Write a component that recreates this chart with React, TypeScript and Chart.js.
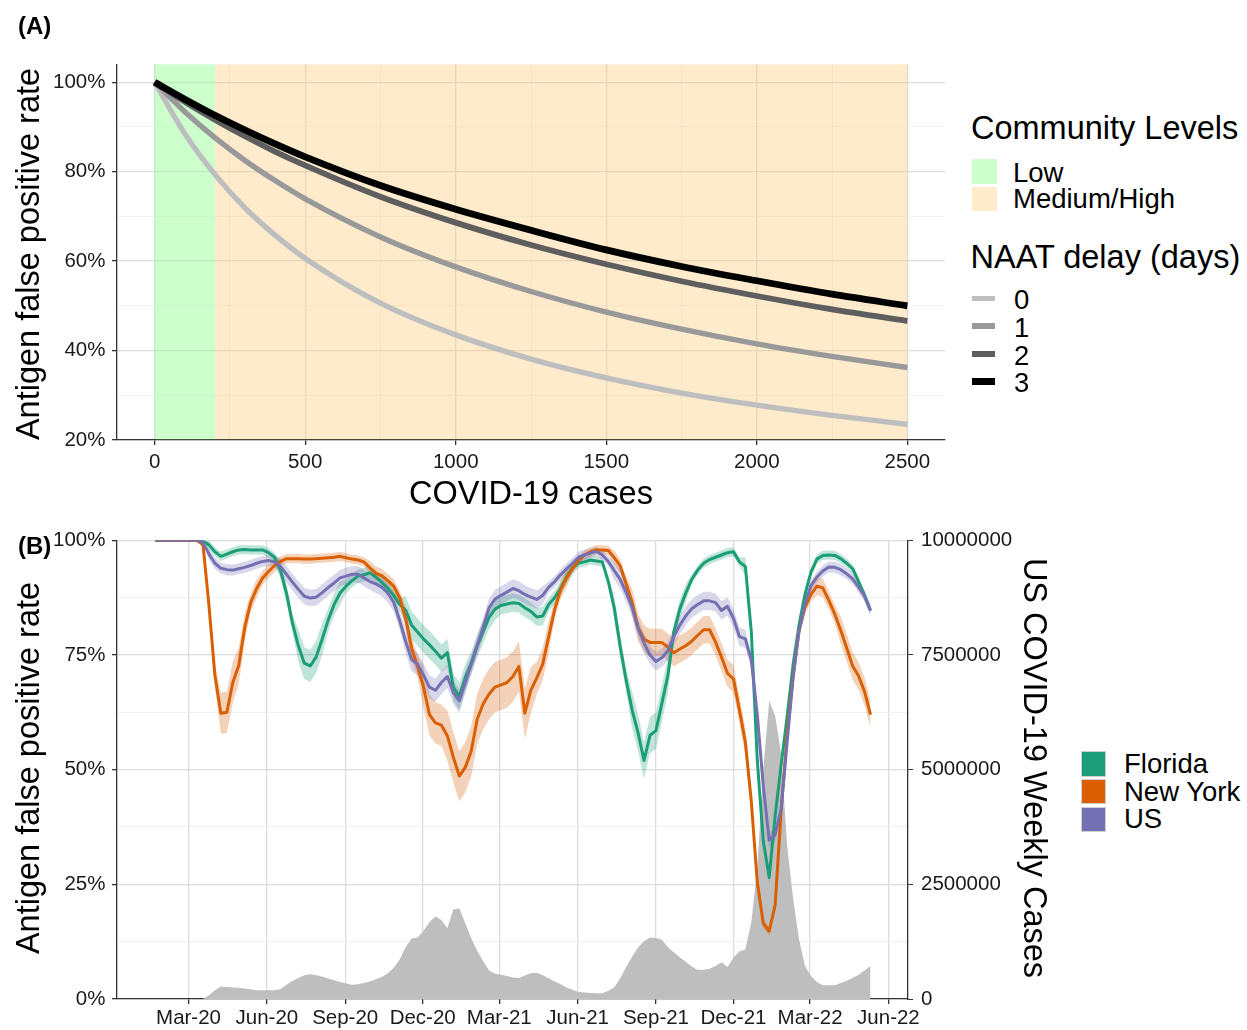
import React, { useEffect, useRef } from "react";
import { Chart, registerables } from "chart.js";

Chart.register(...registerables);

const FONT = "'Liberation Sans', Arial, Helvetica, sans-serif";
const TICK_TEXT = "#1a1a1a";
const AXIS_COLOR = "#333333";
const GRID_MAJOR = "#dcdcdc";
const GRID_MINOR = "#efefef";
const TRANSPARENT = "rgba(0,0,0,0)";

// ---------------- Panel A data ----------------
const aCases = [0, 100, 200, 300, 400, 500, 750, 1000, 1250, 1500, 1750, 2000, 2250, 2500];
const aDelay0 = [100, 88.5, 79.4, 71.9, 65.8, 60.6, 50.6, 43.5, 38.1, 33.9, 30.5, 27.8, 25.5, 23.5];
const aDelay1 = [100, 93.4, 87.6, 82.5, 78.0, 73.9, 65.4, 58.7, 53.2, 48.6, 44.8, 41.5, 38.7, 36.2];
const aDelay2 = [100, 95.6, 91.6, 87.9, 84.5, 81.4, 74.4, 68.6, 63.6, 59.3, 55.5, 52.2, 49.2, 46.6];
const aDelay3 = [100, 96.2, 92.6, 89.3, 86.2, 83.3, 76.9, 71.6, 66.9, 62.5, 58.8, 55.6, 52.6, 50.0];
const aDelayLabels = ["0", "1", "2", "3"];
const aLevelLabels = ["Low", "Medium/High"];
const aLevelStart = [0, 200];
const aLevelEnd = [200, 2500];
const aYTicks = [20, 30, 40, 50, 60, 70, 80, 90, 100];
const aXTicks = [0, 250, 500, 750, 1000, 1250, 1500, 1750, 2000, 2250, 2500];

// ---------------- Panel B data (weekly, from 2020-01-22) ----------------
const bFirstWeek = "2020-01-22";
const bTickDates = ["2020-03-01", "2020-06-01", "2020-09-01", "2020-12-01", "2021-03-01", "2021-06-01", "2021-09-01", "2021-12-01", "2022-03-01", "2022-06-01"];
const bTickLabels = ["Mar-20", "Jun-20", "Sep-20", "Dec-20", "Mar-21", "Jun-21", "Sep-21", "Dec-21", "Mar-22", "Jun-22"];
const bRangeStart = "2019-12-08";
const bRangeEnd = "2022-06-24";
const bYTicks = [0, 12.5, 25, 37.5, 50, 62.5, 75, 87.5, 100];
const bY2Ticks = [0, 2500000, 5000000, 7500000, 10000000];
const bRegions = ["Florida", "New York", "US"];

const floridaRate = [
  100, 100, 100, 100, 100, 100, 100, 100, 99.8, 99,
  97.5, 96.5, 97.0, 97.5, 97.9, 98.0, 97.9, 97.9, 97.9, 97.3,
  96.3, 93.5, 88.5, 82, 77, 73.2, 72.6, 74.6, 78.5, 82.6,
  86, 88.5, 90, 91.2, 92.2, 92.5, 92.9, 92, 90.8, 89.5,
  88, 86, 84.8, 81.5, 80, 78.5, 77.2, 75.8, 74.3, 75.5,
  68, 66, 70, 73.2, 77, 80, 83.2, 85, 85.8, 86.1,
  86.4, 86.2, 85.3, 84.5, 83.3, 83.5, 86, 87.5, 89.5, 92,
  94, 95, 95.3, 95.7, 95.5, 95.3, 91, 85.3, 76.8, 69.5,
  63, 58, 52, 57.5, 58.5, 64.5, 70.5, 80, 85, 88.5,
  91.5, 93.5, 95, 95.8, 96.3, 96.8, 97.3, 97.5, 95.3, 94.3,
  80, 52, 34.5, 26.5, 40, 51, 61.5, 72.8, 81.5, 88.2,
  93, 95.9, 96.7, 96.8, 96.7, 96, 95, 93.8, 91, 88,
  84.7,
];
const newYorkRate = [
  100, 100, 100, 100, 100, 100, 100, 100, 99, 85.8,
  70.5, 62.3, 62.5, 69, 72.7, 81, 86.4, 89.5, 91.8, 93.2,
  94.5, 95.4, 96, 96, 96, 95.9, 95.9, 96, 96.1, 96.2,
  96.3, 96.5, 96.2, 95.9, 95.7, 95.3, 94, 92.8, 92.3, 91.2,
  90, 87.5, 83, 76.5, 72.5, 68, 62, 60.2, 59.7, 57.4,
  52.7, 48.6, 50.5, 54, 61, 64.3, 66.5, 68, 68.5, 69,
  70.3, 72.5, 62.3, 67.3, 70, 73, 79, 84.9, 89.2, 91.8,
  93.8, 95.6, 96.8, 97.5, 97.9, 97.9, 97.8, 96.2, 94.4, 90.5,
  86.5, 81, 78.5, 77.7, 77.7, 77.7, 76.7, 75.5, 76.3, 77,
  78, 79.3, 80.5, 80.5, 77.8, 74.5, 71, 69.8, 63, 56,
  43, 25.5, 16.5, 14.8, 20.5, 41, 57.7, 70.2, 80.3, 85.4,
  88.2, 90, 89.6, 86.9, 83.9, 80.4, 76.5, 72.6, 70.4, 67,
  62,
];
const usRate = [
  100, 100, 100, 100, 100, 100, 100, 100, 99.5, 97,
  95, 93.9, 93.6, 93.5, 93.8, 94.1, 94.5, 95.0, 95.4, 95.6,
  95.3, 94.3, 92.6, 90.9, 89.3, 87.8, 87.4, 87.6, 88.6, 89.7,
  90.7, 91.8, 92.2, 92.6, 92.6, 91.8, 91.0, 90.5, 89.8, 88.5,
  86.5, 82.5, 78, 74, 73, 70.6, 68, 67.3, 69, 70.3,
  66.8, 65, 69, 72.9, 77, 81, 85.3, 87.2, 88, 88.7,
  89.5, 89, 88.2, 87.6, 87.1, 88, 89.8, 91, 92.5, 93.8,
  95, 96.3, 96.8, 97.2, 97.6, 96.8, 95.4, 93.4, 91.5, 88.6,
  85.4, 80.8, 77.6, 75, 73.6, 74.4, 75.9, 79, 81.5, 83.5,
  85.1, 86, 86.8, 86.8, 86.4, 84.7, 85.6, 83, 79, 78.5,
  73.8, 62, 46.5, 34.6, 35.9, 41.4, 55.9, 70, 80.2, 86.2,
  90.1, 92, 93.3, 94.2, 94.1, 93.6, 92.7, 91.6, 89.8, 87.8,
  84.7,
];
const floridaSpread = [
  0, 0, 0, 0, 0, 0, 0, 0, 0, 1,
  1, 1, 1, 1, 1, 1, 1, 1, 1, 1,
  1, 2, 2, 2, 3.5, 3.5, 3.5, 3.5, 3.5, 2.5,
  2.5, 2.5, 1.5, 1.5, 1.5, 1.5, 1.5, 1.5, 1.5, 1.5,
  1.5, 1.5, 3, 3, 3, 3, 3, 3, 3, 3,
  3, 3, 3, 2.5, 2.5, 2.5, 2.5, 2.5, 2, 2,
  2, 2, 2, 2, 2, 2, 1.5, 1.5, 1.5, 1.5,
  1.5, 1, 1, 1, 1, 1, 1, 2.5, 2.5, 2.5,
  4, 4, 4, 4, 4, 4, 4, 2, 2, 2,
  1, 1, 1, 1, 1, 1, 1, 1, 1, 2,
  2, 2, 1.5, 1.5, 1.5, 1.5, 1.5, 1.5, 1, 1,
  1, 1, 1, 1, 1, 1, 1, 1, 1, 1,
  1,
];
const newYorkSpread = [
  0, 0, 0, 0, 0, 0, 0, 0, 0.5, 2,
  2.5, 4.5, 4.5, 4.5, 4, 3, 2, 2, 1.5, 1.5,
  1.5, 1, 1, 1, 1, 1, 1, 1, 1, 1,
  1, 1, 1, 1, 1, 1, 1.5, 1.5, 1.5, 1.5,
  1.5, 1.5, 2.5, 2.5, 2.5, 4.5, 4.5, 4.5, 4.5, 5.5,
  5.5, 5.5, 5.5, 5.5, 5.5, 5.5, 5.5, 5.5, 5.5, 5.5,
  5.5, 5.5, 5.5, 5, 3.5, 3.5, 3.5, 2, 2, 2,
  1, 1, 1, 1, 1, 1, 1, 1.5, 1.5, 1.5,
  3, 3, 3, 3, 3, 3, 3, 3, 3, 3,
  3, 3, 3, 3, 3, 3, 3, 3, 3, 3,
  2, 2, 1, 1, 1, 1.5, 1.5, 1.5, 1.5, 1.5,
  1.5, 2, 2, 2, 2, 3, 3, 3, 3, 3,
  3,
];
const usSpread = [
  0, 0, 0, 0, 0, 0, 0, 0, 0, 1.2,
  1.2, 1.2, 1.2, 1.2, 1.2, 1.2, 1.2, 1.2, 1.2, 1.2,
  1.2, 1.8, 1.8, 1.8, 1.8, 1.8, 1.8, 1.8, 1.8, 1.8,
  1.8, 1.8, 1.8, 1.8, 1.8, 1.8, 1.8, 2, 2, 2,
  2, 2, 2.5, 2.5, 2.5, 2.5, 2.5, 2.5, 2.5, 2.5,
  2.5, 2.5, 2.5, 2, 2, 2, 2, 2, 2, 2,
  2, 2, 2, 2, 2, 2, 1.2, 1.2, 1.2, 1.2,
  1.2, 1.2, 1.2, 1, 1, 1, 1, 2, 2, 2,
  2, 2, 2, 2, 2, 2, 2, 2, 2, 2,
  2, 2, 2, 2, 2, 2, 2, 2, 2, 2,
  1.5, 1.5, 1.5, 1.5, 1.5, 1.5, 1.5, 1.5, 1.2, 1.2,
  1.2, 1.2, 1.2, 1.2, 1.2, 1.2, 1.2, 1.2, 1.2, 1.2,
  1.2,
];
// US weekly cases, thousands
const usWeeklyCasesK = [
  0, 0, 0, 0, 0, 0, 0, 0, 0, 80,
  190, 270, 260, 250, 245, 230, 210, 190, 190, 190,
  190, 220, 310, 390, 460, 520, 540, 520, 490, 445,
  410, 370, 340, 310, 320, 350, 380, 430, 480, 560,
  680, 860, 1130, 1320, 1340, 1480, 1680, 1800, 1720, 1540,
  1950, 1980, 1650, 1330, 1050, 830, 620, 550, 530, 500,
  470, 460, 510, 560, 570, 520, 450, 380, 320, 250,
  200, 150, 140, 130, 125, 125, 180, 250, 450, 700,
  920, 1130, 1260, 1340, 1330, 1290, 1130, 1020, 910, 810,
  710, 630, 640, 660, 720, 800, 700, 900, 1040, 1080,
  1680, 2850, 5000, 6500, 6170, 5350, 3350, 2200, 1300, 720,
  500, 370, 300, 300, 300, 350, 400, 460, 530, 620,
  720,
];

// ---------------- styles ----------------
const DELAY_COLORS = ["#bebebe", "#999999", "#5e5e5e", "#000000"];
const DELAY_WIDTHS = [5.4, 5.4, 5.8, 6.8];
const LEVEL_FILL = ["rgba(144,255,144,0.45)", "rgba(250,205,125,0.40)"];
const LEVEL_KEY = ["#cdffcd", "#fdebcb"];
const REGION_COLORS = ["#1b9e77", "#d95f02", "#7570b3"];
const REGION_BANDS = ["rgba(27,158,119,0.28)", "rgba(217,95,2,0.28)", "rgba(117,112,179,0.28)"];

const DAY_MS = 86400000;
const ORIGIN = Date.UTC(2020, 2, 1);
function dayOf(s: string): number {
  const [y, m, d] = s.split("-").map(Number);
  return (Date.UTC(y, m - 1, d) - ORIGIN) / DAY_MS;
}

function gridStyle(isMajor: (v: number) => boolean) {
  return {
    color: (c: any) => (c.tick && isMajor(c.tick.value) ? GRID_MAJOR : GRID_MINOR),
    lineWidth: (c: any) => (c.tick && isMajor(c.tick.value) ? 1.3 : 0.8),
    tickColor: (c: any) => (c.tick && isMajor(c.tick.value) ? AXIS_COLOR : TRANSPARENT),
    tickLength: 5,
  };
}

const tickFont = { family: FONT, size: 20.5 };

function PanelA() {
  const ref = useRef<HTMLCanvasElement | null>(null);
  useEffect(() => {
    const series = [aDelay0, aDelay1, aDelay2, aDelay3];
    const levelsPlugin = {
      id: "levels",
      beforeDatasetsDraw(chart: any) {
        const { ctx, chartArea, scales } = chart;
        ctx.save();
        aLevelLabels.forEach((_, i) => {
          const x0 = scales.x.getPixelForValue(aLevelStart[i]);
          const x1 = scales.x.getPixelForValue(aLevelEnd[i]);
          ctx.fillStyle = LEVEL_FILL[i];
          ctx.fillRect(x0, chartArea.top, x1 - x0, chartArea.bottom - chartArea.top - 0.7);
        });
        ctx.restore();
      },
    };
    const chart = new Chart(ref.current!, {
      type: "line",
      data: {
        datasets: series.map((vals, i) => ({
          label: aDelayLabels[i],
          data: aCases.map((x, j) => ({ x, y: vals[j] })),
          borderColor: DELAY_COLORS[i],
          borderWidth: DELAY_WIDTHS[i],
          pointRadius: 0,
          fill: false,
          cubicInterpolationMode: "monotone" as const,
          order: 3 - i,
        })),
      },
      options: {
        animation: false,
        responsive: false,
        events: [],
        layout: { padding: { top: 64.3, right: 5, left: 0, bottom: 0 } },
        plugins: { legend: { display: false }, tooltip: { enabled: false } },
        scales: {
          x: {
            type: "linear",
            min: -125,
            max: 2625,
            afterBuildTicks: (s: any) => {
              s.ticks = aXTicks.map((v) => ({ value: v }));
            },
            afterFit: (s: any) => {
              s.height = 75;
            },
            grid: gridStyle((v) => v % 500 === 0),
            border: { display: true, color: AXIS_COLOR, width: 1.3 },
            ticks: {
              autoSkip: false,
              maxRotation: 0,
              minRotation: 0,
              padding: 5.5,
              color: TICK_TEXT,
              font: tickFont,
              callback: (v: any) => (Number(v) % 500 === 0 ? String(v) : ""),
            },
          },
          y: {
            type: "linear",
            min: 20,
            max: 104,
            afterBuildTicks: (s: any) => {
              s.ticks = aYTicks.map((v) => ({ value: v }));
            },
            afterFit: (s: any) => {
              s.width = 117;
            },
            grid: gridStyle((v) => v % 20 === 0),
            border: { display: true, color: AXIS_COLOR, width: 1.3 },
            ticks: {
              padding: 6.5,
              color: TICK_TEXT,
              font: tickFont,
              callback: (v: any) => (Number(v) % 20 === 0 ? `${v}%` : ""),
            },
          },
        },
      },
      plugins: [levelsPlugin],
    } as any);
    return () => chart.destroy();
  }, []);
  return <canvas ref={ref} width={950} height={515} style={{ position: "absolute", left: 0, top: 0, width: 950, height: 515 }} />;
}

function PanelB() {
  const ref = useRef<HTMLCanvasElement | null>(null);
  useEffect(() => {
    const start = dayOf(bFirstWeek);
    const days = usRate.map((_, i) => start + 7 * i);
    const rates = [floridaRate, newYorkRate, usRate];
    const spreads = [floridaSpread, newYorkSpread, usSpread];
    const tickDays = bTickDates.map(dayOf);
    const lines = [2, 1, 0].map((r) => ({
      label: bRegions[r],
      data: days.map((x, i) => ({ x, y: rates[r][i] })),
      borderColor: REGION_COLORS[r],
      borderWidth: 3,
      pointRadius: 0,
      fill: false,
      tension: 0,
      borderJoinStyle: "round" as const,
      yAxisID: "y",
      order: 2 - r,
    }));
    const bands: any[] = [];
    [2, 1, 0].forEach((r) => {
      bands.push({
        label: bRegions[r] + " upper",
        data: days.map((x, i) => ({ x, y: Math.min(100, rates[r][i] + spreads[r][i]) })),
        borderWidth: 0,
        borderColor: TRANSPARENT,
        backgroundColor: REGION_BANDS[r],
        pointRadius: 0,
        fill: "+1",
        tension: 0,
        yAxisID: "y",
        order: 5,
      });
      bands.push({
        label: bRegions[r] + " lower",
        data: days.map((x, i) => ({ x, y: rates[r][i] - spreads[r][i] })),
        borderWidth: 0,
        borderColor: TRANSPARENT,
        pointRadius: 0,
        fill: false,
        tension: 0,
        yAxisID: "y",
        order: 5,
      });
    });
    const cases = {
      label: "US weekly cases",
      data: days.map((x, i) => ({ x, y: usWeeklyCasesK[i] * 1000 })),
      borderWidth: 0,
      borderColor: TRANSPARENT,
      backgroundColor: "#bebebe",
      pointRadius: 0,
      fill: "origin",
      tension: 0,
      yAxisID: "y2",
      order: 10,
    };
    const chart = new Chart(ref.current!, {
      type: "line",
      data: { datasets: [...lines, ...bands, cases] },
      options: {
        animation: false,
        responsive: false,
        events: [],
        layout: { padding: { top: 17, right: 0, left: 0, bottom: 0 } },
        plugins: { legend: { display: false }, tooltip: { enabled: false } },
        scales: {
          x: {
            type: "linear",
            min: dayOf(bRangeStart),
            max: dayOf(bRangeEnd),
            afterBuildTicks: (s: any) => {
              s.ticks = tickDays.map((v) => ({ value: v }));
            },
            afterFit: (s: any) => {
              s.height = 31;
            },
            grid: gridStyle(() => true),
            border: { display: true, color: AXIS_COLOR, width: 1.3 },
            ticks: {
              autoSkip: false,
              maxRotation: 0,
              minRotation: 0,
              padding: 2.5,
              color: TICK_TEXT,
              font: tickFont,
              callback: (_v: any, i: number) => bTickLabels[i],
            },
          },
          y: {
            type: "linear",
            position: "left",
            min: 0,
            max: 100,
            afterBuildTicks: (s: any) => {
              s.ticks = bYTicks.map((v) => ({ value: v }));
            },
            afterFit: (s: any) => {
              s.width = 117;
            },
            grid: gridStyle((v) => v % 25 === 0),
            border: { display: true, color: AXIS_COLOR, width: 1.3 },
            ticks: {
              padding: 6.5,
              color: TICK_TEXT,
              font: tickFont,
              callback: (v: any) => (Number(v) % 25 === 0 ? `${v}%` : ""),
            },
          },
          y2: {
            type: "linear",
            position: "right",
            min: 0,
            max: 10000000,
            afterBuildTicks: (s: any) => {
              s.ticks = bY2Ticks.map((v) => ({ value: v }));
            },
            afterFit: (s: any) => {
              s.width = 157;
            },
            grid: { drawOnChartArea: false, tickColor: AXIS_COLOR, tickLength: 5 },
            border: { display: true, color: AXIS_COLOR, width: 1.3 },
            ticks: {
              padding: 8,
              color: TICK_TEXT,
              font: tickFont,
              callback: (v: any) => String(v),
            },
          },
        },
      },
    } as any);
    return () => chart.destroy();
  }, []);
  return <canvas ref={ref} width={1065} height={510} style={{ position: "absolute", left: 0, top: 520, width: 1065, height: 510 }} />;
}

type LabelProps = { x: number; y: number; size: number; text: string; center?: boolean; rotate?: number; bold?: boolean };
function Label({ x, y, size, text, center = false, rotate = 0, bold = false }: LabelProps) {
  return (
    <div
      style={{
        position: "absolute",
        left: x,
        top: y,
        fontSize: size,
        lineHeight: 1,
        whiteSpace: "nowrap",
        fontWeight: bold ? 700 : 400,
        fontFamily: FONT,
        color: "#000",
        transform: `translate(${center ? "-50%" : "0"}, -50%) rotate(${rotate}deg)`,
        transformOrigin: "center",
      }}
    >
      {text}
    </div>
  );
}

function Box({ x, y, w, h, color, border }: { x: number; y: number; w: number; h: number; color: string; border?: string }) {
  return (
    <div
      style={{
        position: "absolute",
        left: x,
        top: y,
        width: w,
        height: h,
        background: color,
        boxSizing: "border-box",
        border: border ? `1px solid ${border}` : "none",
      }}
    />
  );
}

export default function App() {
  const levelKeyTops = [159, 186.7];
  const levelLabelY = [173.3, 199];
  const delayKeyY = [298.3, 326, 354, 381.7];
  const delayLabelY = [300, 328, 355.5, 383];
  const regionTops = [751, 778.5, 806.5];
  const regionLabelY = [764, 791.5, 819];
  return (
    <div style={{ position: "absolute", left: 0, top: 0, width: 1247, height: 1030, background: "#fff", overflow: "hidden", fontFamily: FONT }}>
      <PanelA />
      <PanelB />
      <Label x={18} y={26} size={24} text="(A)" bold />
      <Label x={18} y={546} size={24} text="(B)" bold />
      <Label x={27.5} y={253.5} size={32.5} text="Antigen false positive rate" center rotate={-90} />
      <Label x={531} y={493} size={32.5} text="COVID-19 cases" center />
      <Label x={27.5} y={767.5} size={32.5} text="Antigen false positive rate" center rotate={-90} />
      <Label x={1034.5} y={768} size={32.5} text="US COVID-19 Weekly Cases" center rotate={90} />

      <Label x={971} y={128} size={32.5} text="Community Levels" />
      {aLevelLabels.map((t, i) => (
        <React.Fragment key={t}>
          <Box x={971.7} y={levelKeyTops[i]} w={25} h={24.5} color={LEVEL_KEY[i]} />
          <Label x={1013} y={levelLabelY[i]} size={27.5} text={t} />
        </React.Fragment>
      ))}
      <Label x={970.5} y={257} size={32.5} text="NAAT delay (days)" />
      {aDelayLabels.map((t, i) => (
        <React.Fragment key={t}>
          <Box x={972.3} y={delayKeyY[i] - DELAY_WIDTHS[i] / 2} w={23} h={DELAY_WIDTHS[i]} color={DELAY_COLORS[i]} />
          <Label x={1014} y={delayLabelY[i]} size={27.5} text={t} />
        </React.Fragment>
      ))}

      {bRegions.map((t, i) => (
        <React.Fragment key={t}>
          <Box x={1080.7} y={regionTops[i]} w={25.5} h={25.5} color={REGION_COLORS[i]} border="#cfcfcf" />
          <Label x={1124} y={regionLabelY[i]} size={27.5} text={t} />
        </React.Fragment>
      ))}
    </div>
  );
}
